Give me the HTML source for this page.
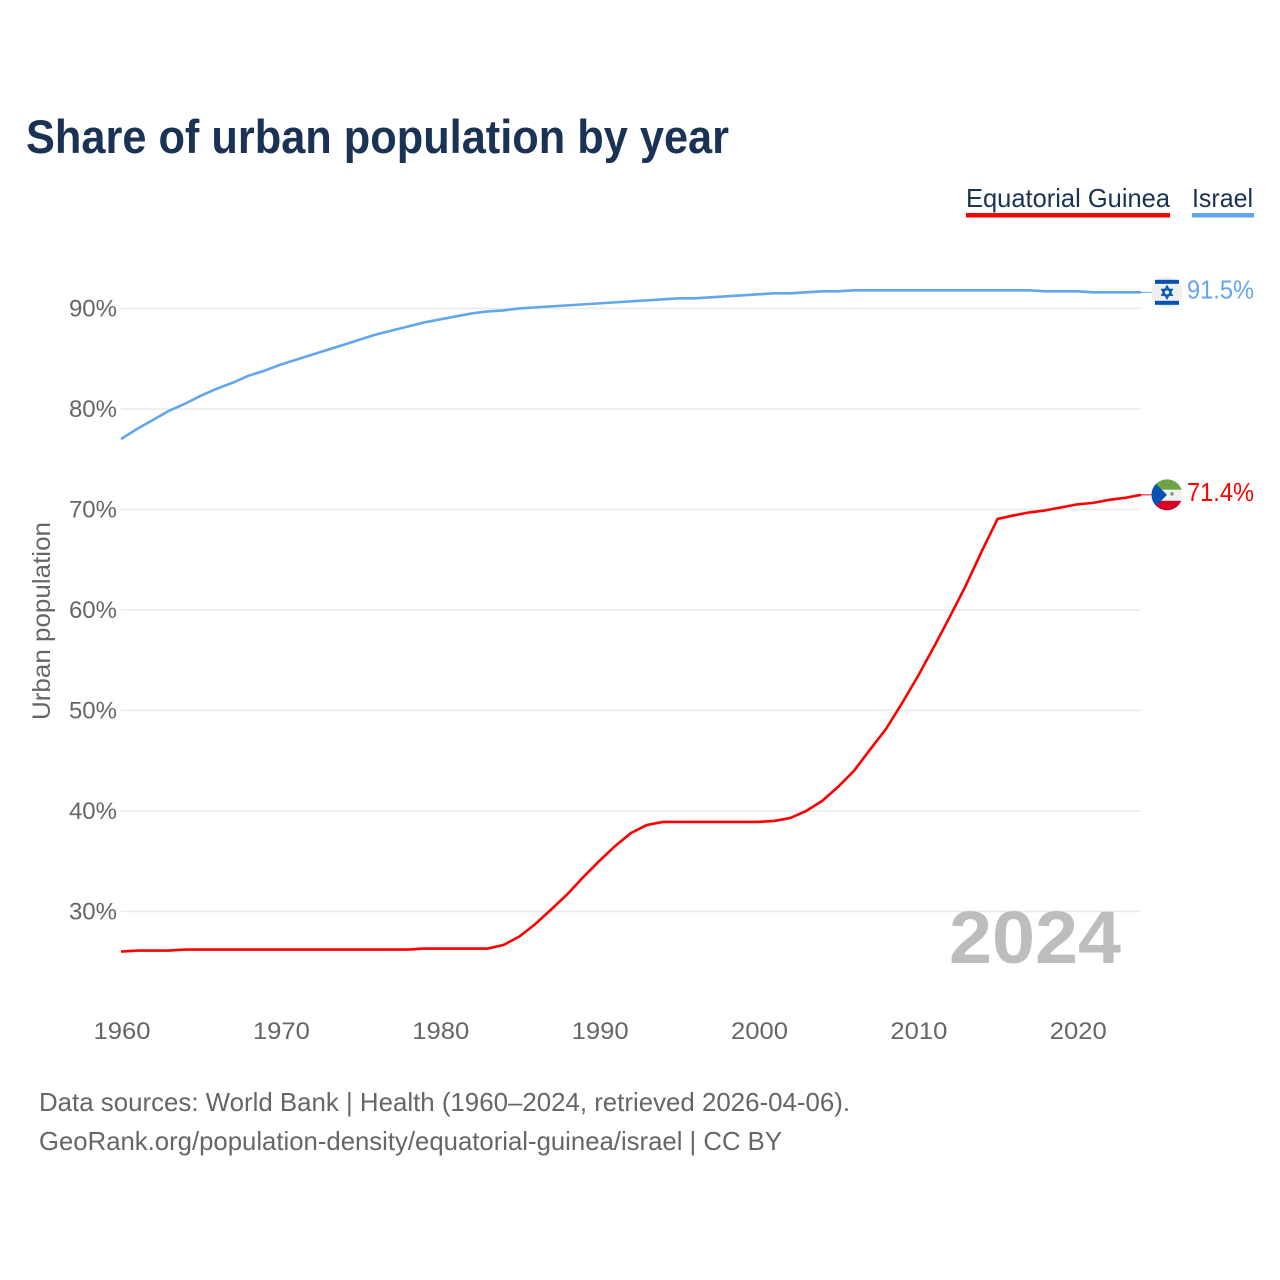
<!DOCTYPE html>
<html lang="en">
<head>
<meta charset="utf-8">
<title>Share of urban population by year</title>
<style>
html,body{margin:0;padding:0;background:#fff;}
#chart{display:block;width:1280px;height:1280px;font-family:"Liberation Sans",sans-serif;}
</style>
</head>
<body>
<svg id="chart" xmlns="http://www.w3.org/2000/svg" width="1280" height="1280" viewBox="0 0 1280 1280">
  <rect x="0" y="0" width="1280" height="1280" fill="#ffffff"/>
  <text x="26" y="153" font-size="47" font-weight="700" fill="#1a3254" textLength="703" lengthAdjust="spacingAndGlyphs">Share of urban population by year</text>

  <g>
    <text x="966" y="207" font-size="26" fill="#1a3254" textLength="204" lengthAdjust="spacingAndGlyphs">Equatorial Guinea</text>
    <rect x="966" y="213" width="204" height="4.5" fill="#ff0000"/>
  </g>
  <g>
    <text x="1192" y="207" font-size="26" fill="#1a3254" textLength="61" lengthAdjust="spacingAndGlyphs">Israel</text>
    <rect x="1192" y="213" width="62" height="4.5" fill="#62a6ec"/>
  </g>

  <g id="grid"></g>
  <g id="y-ticks"></g>
  <g id="x-ticks"></g>

  <text transform="translate(50,621) rotate(-90)" text-anchor="middle" font-size="25" fill="#666666" textLength="198" lengthAdjust="spacingAndGlyphs">Urban population</text>

  <text x="949" y="963" font-size="74" font-weight="700" fill="#bdbdbd" textLength="172" lengthAdjust="spacingAndGlyphs">2024</text>

  <g id="series"></g>

  <g id="flag-israel">
    <circle cx="0" cy="0" r="15.5" fill="#efefef"/>
    <rect x="-12" y="-12.5" width="24" height="4" fill="#0052b4"/>
    <rect x="-12" y="8.5" width="24" height="4" fill="#0052b4"/>
    <polygon points="0,-6 5,2.8 -5,2.8" fill="none" stroke="#0052b4" stroke-width="1.6"/>
    <polygon points="0,6 5,-2.8 -5,-2.8" fill="none" stroke="#0052b4" stroke-width="1.6"/>
  </g>
  <g id="flag-eq">
    <clipPath id="clip-eq"><circle cx="0" cy="0" r="15.5"/></clipPath>
    <g clip-path="url(#clip-eq)">
      <rect x="-16" y="-16" width="32" height="11" fill="#6da544"/>
      <rect x="-16" y="-5" width="32" height="11" fill="#f0f0f0"/>
      <rect x="-16" y="6" width="32" height="10" fill="#d80027"/>
      <polygon points="-16,-16 0,0 -16,16" fill="#0052b4"/>
    </g>
    <circle cx="5" cy="-1" r="1.8" fill="#8a9a78"/>
  </g>

  <g id="value-labels"></g>

  <text x="39" y="1111" font-size="26" fill="#666666" textLength="811" lengthAdjust="spacingAndGlyphs">Data sources: World Bank | Health (1960–2024, retrieved 2026-04-06).</text>
  <text x="39" y="1150" font-size="26" fill="#666666" textLength="743" lengthAdjust="spacingAndGlyphs">GeoRank.org/population-density/equatorial-guinea/israel | CC BY</text>
</svg>

<script>
const years = [1960,1961,1962,1963,1964,1965,1966,1967,1968,1969,1970,1971,1972,1973,1974,1975,1976,1977,1978,1979,1980,1981,1982,1983,1984,1985,1986,1987,1988,1989,1990,1991,1992,1993,1994,1995,1996,1997,1998,1999,2000,2001,2002,2003,2004,2005,2006,2007,2008,2009,2010,2011,2012,2013,2014,2015,2016,2017,2018,2019,2020,2021,2022,2023,2024];
const israelValues = [77.0,78.0,78.9,79.8,80.5,81.3,82.0,82.6,83.3,83.8,84.4,84.9,85.4,85.9,86.4,86.9,87.4,87.8,88.2,88.6,88.9,89.2,89.5,89.7,89.8,90.0,90.1,90.2,90.3,90.4,90.5,90.6,90.7,90.8,90.9,91.0,91.0,91.1,91.2,91.3,91.4,91.5,91.5,91.6,91.7,91.7,91.8,91.8,91.8,91.8,91.8,91.8,91.8,91.8,91.8,91.8,91.8,91.8,91.7,91.7,91.7,91.6,91.6,91.6,91.6];
const equatorialGuineaValues = [26.0,26.1,26.1,26.1,26.2,26.2,26.2,26.2,26.2,26.2,26.2,26.2,26.2,26.2,26.2,26.2,26.2,26.2,26.2,26.3,26.3,26.3,26.3,26.3,26.66,27.5,28.75,30.2,31.7,33.4,35.0,36.5,37.8,38.6,38.9,38.9,38.9,38.9,38.9,38.9,38.9,39.0,39.3,40.0,41.0,42.4,44.0,46.1,48.15,50.7,53.4,56.3,59.3,62.4,65.8,69.05,69.4,69.7,69.9,70.2,70.5,70.65,70.95,71.15,71.45];
const yTickValues = [30,40,50,60,70,80,90];
const xTickValues = [1960,1970,1980,1990,2000,2010,2020];
const israelLabel = "91.5%";
const equatorialGuineaLabel = "71.4%";

const NS = "http://www.w3.org/2000/svg";
const plotLeft = 121, plotRight = 1141;
function xScale(year) { return plotLeft + (year - years[0]) / (years[years.length - 1] - years[0]) * (plotRight - plotLeft); }
function yScale(v) { return 911.4 - (v - 30) * 10.05; }
function make(tag, attrs, parent) {
  const el = document.createElementNS(NS, tag);
  for (const k in attrs) el.setAttribute(k, attrs[k]);
  parent.appendChild(el);
  return el;
}

const grid = document.getElementById("grid");
const yTicks = document.getElementById("y-ticks");
yTickValues.forEach(function (v) {
  const line = make("line", { x1: plotLeft, x2: plotRight, y1: yScale(v), y2: yScale(v), stroke: "#ebebeb", "stroke-width": 1.6 }, grid);
  
  
  const t = make("text", { x: 117, y: yScale(v) + 8, "text-anchor": "end", "font-size": 24, fill: "#666666" }, yTicks);
  
  
  t.textContent = v + "%";
});

const xTicks = document.getElementById("x-ticks");
xTickValues.forEach(function (yr) {
  const t = make("text", { x: xScale(yr) + 1, y: 1039, "text-anchor": "middle", "font-size": 24, fill: "#666666", textLength: 57, lengthAdjust: "spacingAndGlyphs" }, xTicks);
  
  
  t.textContent = yr;
});

function linePath(values) {
  return values.map(function (v, i) { return (i ? "L" : "M") + xScale(years[i]).toFixed(2) + " " + yScale(v).toFixed(2); }).join(" ");
}
const seriesGroup = document.getElementById("series");
const labelsGroup = document.getElementById("value-labels");
function drawSeries(values, color, slug, labelText, flagId) {
  const last = yScale(values[values.length - 1]);
  const path = make("path", { d: linePath(values), fill: "none", stroke: color, "stroke-width": 2.6, "stroke-linejoin": "round" }, seriesGroup);
  
  
  const conn = make("line", { x1: plotRight, x2: 1153, y1: last, y2: last, stroke: color, "stroke-width": 1 }, seriesGroup);
  
  
  document.getElementById(flagId).setAttribute("transform", "translate(1167," + last + ")");
  const t = make("text", { x: 1187, y: last + 6, "font-size": 26, fill: color, textLength: 67, lengthAdjust: "spacingAndGlyphs" }, labelsGroup);
  
  
  t.textContent = labelText;
}
drawSeries(israelValues, "#62a6ec", "israel", israelLabel, "flag-israel");
drawSeries(equatorialGuineaValues, "#ff0000", "equatorial-guinea", equatorialGuineaLabel, "flag-eq");
</script>
</body>
</html>
